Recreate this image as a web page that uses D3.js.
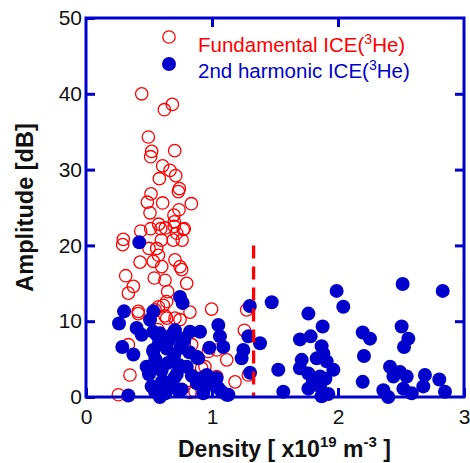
<!DOCTYPE html>
<html>
<head>
<meta charset="utf-8">
<script src="https://cdn.jsdelivr.net/npm/d3@7/dist/d3.min.js"></script>
<style>
  html, body { margin: 0; padding: 0; background: #fff; }
  svg { display: block; font-family: Arial, "Liberation Sans", sans-serif; }
</style>
</head>
<body>
<svg id="chart" width="470" height="463"></svg>
<script>
// Fundamental ICE (3He): [density (1e19 m^-3), amplitude (dB)]
const fundamental = [
  [0.442,40.0],[0.685,38.6],[0.622,37.9],
  [0.495,34.3],[0.521,32.4],[0.513,31.7],[0.704,32.5],[0.608,30.5],[0.667,29.9],
  [0.712,29.2],[0.582,28.8],[0.741,27.5],[0.733,27.1],[0.516,26.8],[0.487,25.7],
  [0.608,25.6],[0.836,25.5],[0.508,24.3],[0.738,24.7],[0.698,24.0],[0.701,23.1],
  [0.577,22.8],[0.593,22.2],[0.772,22.1],[0.434,21.9],[0.72,21.6],[0.296,20.8],
  [0.291,20.1],[0.513,22.2],[0.63,22.3],[0.70,22.5],[0.78,22.2],
  [0.598,20.7],[0.561,19.6],[0.50,19.6],[0.575,18.7],[0.692,20.7],[0.763,20.7],
  [0.429,17.8],[0.534,17.9],[0.601,17.2],[0.706,18.1],[0.746,17.2],[0.759,16.8],
  [0.315,16.0],[0.542,15.7],[0.627,15.4],[0.799,15.0],[0.376,14.6],[0.336,13.7],
  [0.648,13.9],[0.640,12.6],[0.575,11.9],[0.548,11.5],[0.614,12.1],[0.415,11.3],
  [0.825,11.2],[0.627,10.7],[0.640,10.4],[0.706,10.4],[0.746,10.2],[0.415,11.0],
  [0.997,11.6],[1.275,11.5],[1.257,8.8],[0.57,8.9],[0.78,7.0],[0.336,6.9],
  [0.839,6.9],[0.971,6.0],[1.037,6.2],[1.117,4.9],[0.944,4.0],[0.918,3.8],
  [1.183,2.0],[1.288,2.9],[1.037,2.7],[0.349,2.9],[0.257,0.3],[0.825,0.6],[0.865,0.7]
];

// 2nd harmonic ICE (3He)
const harmonic = [
  [0.423,20.4],
  [0.302,11.3],[0.262,9.7],[0.534,11.3],[0.508,10.2],[0.746,13.2],[0.767,12.4],
  [0.402,9.1],[0.442,8.2],[0.587,8.4],[0.706,8.8],[0.825,8.6],[0.905,8.6],
  [1.05,9.5],[1.063,8.0],[1.09,6.6],[0.979,6.5],[0.288,6.6],[0.376,5.6],
  [0.534,6.2],[0.640,6.4],[0.481,4.0],[0.878,5.3],[0.521,1.4],[0.336,0.2],
  [0.587,0.0],[0.733,0.9],[0.931,0.5],[1.117,0.3],[0.958,2.9],[1.037,2.5],
  [0.55,5.0],[0.60,3.5],[0.65,4.5],[0.70,5.5],[0.72,3.0],[0.75,6.5],[0.80,4.0],
  [0.62,2.0],[0.68,1.5],[0.58,7.2],[0.66,7.5],[0.78,7.5],[0.84,2.8],[0.88,1.8],
  [0.50,3.0],[0.55,1.0],[0.63,0.5],[0.70,2.5],[0.76,1.0],[0.82,5.9],[0.57,4.3],
  [0.74,4.2],[1.00,1.8],[1.05,1.2],
  [0.534,8.6],[0.561,8.2],[0.680,8.2],[0.759,7.7],[0.733,4.2],[0.601,2.0],
  [0.548,0.7],[0.534,6.0],
  [0.891,5.1],[0.918,2.5],[0.971,1.6],[1.024,2.0],[1.077,0.7],[1.13,0.3],
  [1.30,12.0],[1.474,12.5],[1.288,8.0],[1.381,7.1],[1.249,6.2],[1.235,5.1],
  [1.302,3.2],[1.526,3.6],[1.566,0.7],
  [1.989,14.0],[2.042,11.9],[1.765,11.0],[1.878,9.3],[1.698,7.6],[1.783,8.0],
  [1.870,6.7],[1.884,5.7],[1.712,4.9],[1.831,5.1],[1.91,4.7],[1.698,3.8],
  [1.963,3.6],[1.765,3.1],[1.857,2.7],[1.765,1.1],[1.857,1.4],[1.870,0.1],
  [1.923,0.4],[1.80,2.0],[1.90,2.4],
  [2.513,14.9],[2.831,14.0],[2.196,8.5],[2.254,7.7],[2.206,5.4],[2.196,2.0],
  [2.505,9.3],[2.558,7.7],[2.524,6.6],[2.413,4.0],[2.44,2.7],[2.492,3.3],
  [2.545,2.7],[2.36,0.9],[2.399,0.0],[2.519,1.1],[2.585,0.5],[2.69,2.9],
  [2.677,1.4],[2.804,2.3],[2.849,0.7]
];

// Density threshold marker
const thresholdDensity = 1.33;
const thresholdTop = 20;

const xTicks = [0, 1, 2, 3];
const yTicks = [0, 10, 20, 30, 40, 50];

const seriesNames = ["Fundamental ICE(", "2nd harmonic ICE("];

const blue = "#0000cc";
const red = "#ff0000";

const svg = d3.select("#chart");
const plotL = 86, plotT = 18, plotR = 464, plotB = 397;

const x = d3.scaleLinear().domain([0, 3]).range([plotL, plotR]);
const y = d3.scaleLinear().domain([0, 50]).range([plotB, plotT]);

const tickLen = 9;
const tickFont = 21;

// Axes with inward ticks
const gBottom = svg.append("g").attr("transform", `translate(0,${plotB})`)
  .call(d3.axisBottom(x).tickValues(xTicks).tickSize(-tickLen).tickFormat(d3.format("d")));
const gLeft = svg.append("g").attr("transform", `translate(${plotL},0)`)
  .call(d3.axisLeft(y).tickValues(yTicks).tickSize(-tickLen).tickPadding(4).tickFormat(d3.format("d")));
const gTop = svg.append("g").attr("transform", `translate(0,${plotT})`)
  .call(d3.axisTop(x).tickValues(xTicks.slice(1, -1)).tickSize(-tickLen).tickFormat(""));
const gRight = svg.append("g").attr("transform", `translate(${plotR},0)`)
  .call(d3.axisRight(y).tickValues(yTicks.slice(1, -1)).tickSize(-tickLen).tickFormat(""));

[gBottom, gLeft, gTop, gRight].forEach(g => {
  g.select(".domain").remove();
  g.selectAll(".tick line").attr("stroke", blue).attr("stroke-width", 3);
  g.selectAll(".tick text").attr("fill", "#111").attr("font-size", tickFont)
    .attr("font-family", "Arial, 'Liberation Sans', sans-serif");
});
gBottom.selectAll(".tick text").attr("y", 27).attr("dy", 0);

// Fundamental: open red circles
svg.append("g").selectAll("circle").data(fundamental).join("circle")
  .attr("cx", d => x(d[0])).attr("cy", d => y(d[1])).attr("r", 6.2)
  .attr("fill", "none").attr("stroke", red).attr("stroke-width", 1.3);

// 2nd harmonic: filled blue circles
svg.append("g").selectAll("circle").data(harmonic).join("circle")
  .attr("cx", d => x(d[0])).attr("cy", d => y(d[1])).attr("r", 7)
  .attr("fill", blue);

// Dashed threshold line
svg.append("line")
  .attr("x1", x(thresholdDensity)).attr("x2", x(thresholdDensity))
  .attr("y1", y(thresholdTop)).attr("y2", y(0))
  .attr("stroke", red).attr("stroke-width", 3.3).attr("stroke-dasharray", "13,8");

// Frame
svg.append("rect")
  .attr("x", plotL).attr("y", plotT).attr("width", plotR - plotL).attr("height", plotB - plotT)
  .attr("fill", "none").attr("stroke", blue).attr("stroke-width", 3);

// Legend
const legend = svg.append("g");
legend.append("circle").attr("cx", 169).attr("cy", 37).attr("r", 6.2)
  .attr("fill", "none").attr("stroke", red).attr("stroke-width", 1.3);
legend.append("circle").attr("cx", 169).attr("cy", 64).attr("r", 7).attr("fill", blue);

function legendText(yPos, label, color) {
  const t = legend.append("text").attr("x", 198).attr("y", yPos)
    .attr("fill", color).attr("font-size", 20.5);
  t.append("tspan").text(label);
  t.append("tspan").attr("dy", -8).attr("font-size", 14).text("3");
  t.append("tspan").attr("dy", 8).text("He)");
}
legendText(52, seriesNames[0], red);
legendText(78, seriesNames[1], blue);

// Axis titles
svg.append("text")
  .attr("transform", `translate(33,${(123 + 292) / 2}) rotate(-90)`)
  .attr("text-anchor", "middle").attr("font-size", 23.5).attr("font-weight", "bold")
  .attr("fill", "#111").text("Amplitude [dB]");

const xt = svg.append("text").attr("x", 178).attr("y", 457)
  .attr("font-size", 23).attr("font-weight", "bold").attr("fill", "#111");
xt.append("tspan").text("Density [ x10");
xt.append("tspan").attr("dy", -10).attr("font-size", 15).text("19");
xt.append("tspan").attr("dy", 10).text(" m");
xt.append("tspan").attr("dy", -10).attr("font-size", 15).text("-3");
xt.append("tspan").attr("dy", 10).text(" ]");
</script>
</body>
</html>
